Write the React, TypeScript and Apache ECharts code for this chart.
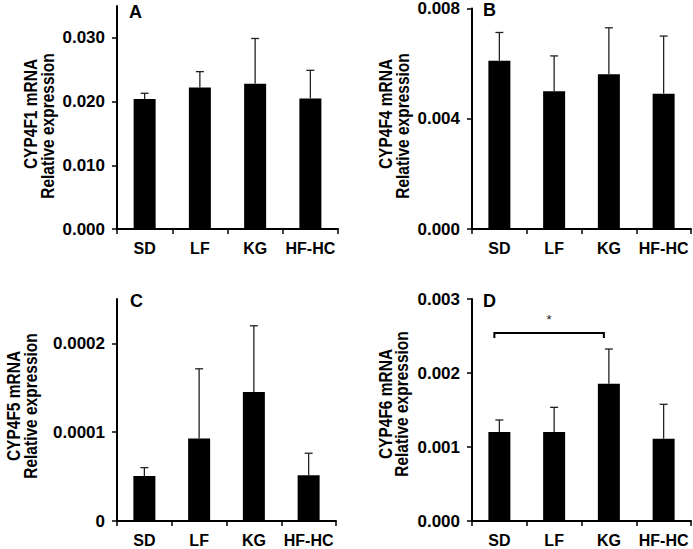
import React, { useEffect, useRef } from "react";
import * as echarts from "echarts";

const categories = ["SD", "LF", "KG", "HF-HC"];

// Panel A: CYP4F1
const cyp4f1Mean = [0.0204, 0.0222, 0.0228, 0.0205];
const cyp4f1Err = [0.0009, 0.0025, 0.0071, 0.0044];
const aTicks = [0, 0.01, 0.02, 0.03];
const aTickLabels = ["0.000", "0.010", "0.020", "0.030"];

// Panel B: CYP4F4
const cyp4f4Mean = [0.0061, 0.005, 0.00561, 0.00491];
const cyp4f4Err = [0.00103, 0.00128, 0.00169, 0.00209];
const bTicks = [0, 0.004, 0.008];
const bTickLabels = ["0.000", "0.004", "0.008"];

// Panel C: CYP4F5
const cyp4f5Mean = [0.0000507, 0.0000928, 0.0001454, 0.0000515];
const cyp4f5Err = [0.0000094, 0.0000786, 0.0000744, 0.0000248];
const cTicks = [0, 0.0001, 0.0002];
const cTickLabels = ["0", "0.0001", "0.0002"];

// Panel D: CYP4F6
const cyp4f6Mean = [0.001203, 0.001203, 0.001856, 0.001112];
const cyp4f6Err = [0.000162, 0.000333, 0.000468, 0.000465];
const dTicks = [0, 0.001, 0.002, 0.003];
const dTickLabels = ["0.000", "0.001", "0.002", "0.003"];

// Significance bracket in panel D
const dBracketFrom = 0; // SD
const dBracketTo = 2; // KG
const dBracketLevel = 0.00254;
const dBracketMark = "*";

const FONT = "'Liberation Sans', Arial, Helvetica, sans-serif";

const panels = [
  { letter: "A", gene: "CYP4F1 mRNA", mean: cyp4f1Mean, err: cyp4f1Err, max: 0.035, interval: 0.01, ticks: aTicks, labels: aTickLabels,
    grid: { left: 117, top: 6, width: 221, height: 223 }, letterPos: [129, 3], titleX: [31, 48], titleY: [114, 126] },
  { letter: "B", gene: "CYP4F4 mRNA", mean: cyp4f4Mean, err: cyp4f4Err, max: 0.008, interval: 0.004, ticks: bTicks, labels: bTickLabels,
    grid: { left: 472, top: 6, width: 219, height: 223 }, letterPos: [483, 1], titleX: [386, 403], titleY: [114, 126] },
  { letter: "C", gene: "CYP4F5 mRNA", mean: cyp4f5Mean, err: cyp4f5Err, max: 0.00025, interval: 0.0001, ticks: cTicks, labels: cTickLabels,
    grid: { left: 117, top: 299, width: 219, height: 222 }, letterPos: [130, 292], titleX: [14, 31], titleY: [406, 406] },
  { letter: "D", gene: "CYP4F6 mRNA", mean: cyp4f6Mean, err: cyp4f6Err, max: 0.003, interval: 0.001, ticks: dTicks, labels: dTickLabels,
    grid: { left: 472, top: 299, width: 219, height: 222 }, letterPos: [483, 292], titleX: [386, 402], titleY: [404, 404] },
];

export default function App() {
  const ref = useRef<HTMLDivElement>(null);
  useEffect(() => {
    if (!ref.current) return;
    const chart = echarts.init(ref.current, undefined, { renderer: "svg" });

    const grids: any[] = [];
    const xAxes: any[] = [];
    const yAxes: any[] = [];
    const series: any[] = [];
    const graphics: any[] = [];

    panels.forEach((p, i) => {
      grids.push({ ...p.grid });
      xAxes.push({
        type: "category",
        gridIndex: i,
        data: categories,
        boundaryGap: true,
        axisLine: { show: true, lineStyle: { color: "#000", width: 2 } },
        axisTick: { show: true, alignWithLabel: false, interval: 0, length: 5, lineStyle: { color: "#000", width: 1.5 } },
        axisLabel: { color: "#000", fontSize: 16, fontWeight: "bold", fontFamily: FONT, margin: 11, interval: 0 },
        splitLine: { show: false },
      });
      yAxes.push({
        type: "value",
        gridIndex: i,
        min: 0,
        max: p.max,
        interval: p.interval,
        axisLine: { show: true, lineStyle: { color: "#000", width: 2 } },
        axisTick: { show: true, length: 5, customValues: p.ticks, lineStyle: { color: "#000", width: 1.5 } },
        axisLabel: {
          color: "#000",
          fontSize: 17,
          fontWeight: "bold",
          fontFamily: FONT,
          margin: 12,
          customValues: p.ticks,
          formatter: (v: number) => {
            const idx = p.ticks.findIndex((t) => Math.abs(t - v) < p.interval * 1e-6);
            return idx >= 0 ? p.labels[idx] : "";
          },
        },
        splitLine: { show: false },
      });
      series.push({
        type: "bar",
        xAxisIndex: i,
        yAxisIndex: i,
        data: p.mean,
        barWidth: 22,
        itemStyle: { color: "#000" },
        z: 2,
      });
      series.push({
        type: "custom",
        xAxisIndex: i,
        yAxisIndex: i,
        data: p.mean.map((m, k) => [k, m, m + p.err[k]]),
        z: 3,
        renderItem: (params: any, api: any) => {
          const x = api.value(0);
          const p0 = api.coord([x, api.value(1)]);
          const p1 = api.coord([x, api.value(2)]);
          const style = { stroke: "#222", lineWidth: 1.3 };
          return {
            type: "group",
            children: [
              { type: "line", shape: { x1: p0[0], y1: p0[1], x2: p1[0], y2: p1[1] }, style },
              { type: "line", shape: { x1: p1[0] - 4, y1: p1[1], x2: p1[0] + 4, y2: p1[1] }, style },
            ],
          };
        },
      });
      graphics.push({
        type: "text",
        x: p.letterPos[0],
        y: p.letterPos[1],
        style: { text: p.letter, fill: "#000", font: `bold 18px ${FONT}`, textAlign: "left", textVerticalAlign: "top" },
      });
      graphics.push({
        type: "text",
        x: p.titleX[0],
        y: p.titleY[0],
        rotation: Math.PI / 2,
        scaleY: 1.15,
        style: { text: p.gene, fill: "#000", font: `bold 15.5px ${FONT}`, textAlign: "center", textVerticalAlign: "middle" },
      });
      graphics.push({
        type: "text",
        x: p.titleX[1],
        y: p.titleY[1],
        rotation: Math.PI / 2,
        scaleY: 1.15,
        style: { text: "Relative expression", fill: "#000", font: `bold 15.5px ${FONT}`, textAlign: "center", textVerticalAlign: "middle" },
      });
    });

    // significance bracket in panel D
    series.push({
      type: "custom",
      xAxisIndex: 3,
      yAxisIndex: 3,
      data: [[dBracketFrom, dBracketTo, dBracketLevel]],
      encode: { x: [0, 1], y: 2 },
      z: 4,
      renderItem: (params: any, api: any) => {
        const a = api.coord([api.value(0), api.value(2)]);
        const b = api.coord([api.value(1), api.value(2)]);
        const dx = -5;
        return {
          type: "group",
          children: [
            {
              type: "polyline",
              shape: { points: [[a[0] + dx, a[1] + 5], [a[0] + dx, a[1]], [b[0] + dx, b[1]], [b[0] + dx, b[1] + 5]] },
              style: { stroke: "#000", lineWidth: 2, fill: "none" },
            },
            {
              type: "text",
              x: (a[0] + b[0]) / 2 + dx,
              y: a[1] - 14,
              style: { text: dBracketMark, fill: "#222", font: `13px ${FONT}`, textAlign: "center", textVerticalAlign: "middle" },
            },
          ],
        };
      },
    });

    chart.setOption({
      animation: false,
      backgroundColor: "#fff",
      grid: grids,
      xAxis: xAxes,
      yAxis: yAxes,
      series,
      graphic: graphics,
    });
    return () => chart.dispose();
  }, []);
  return <div ref={ref} style={{ position: "fixed", left: 0, top: 0, width: 693, height: 549 }} />;
}
